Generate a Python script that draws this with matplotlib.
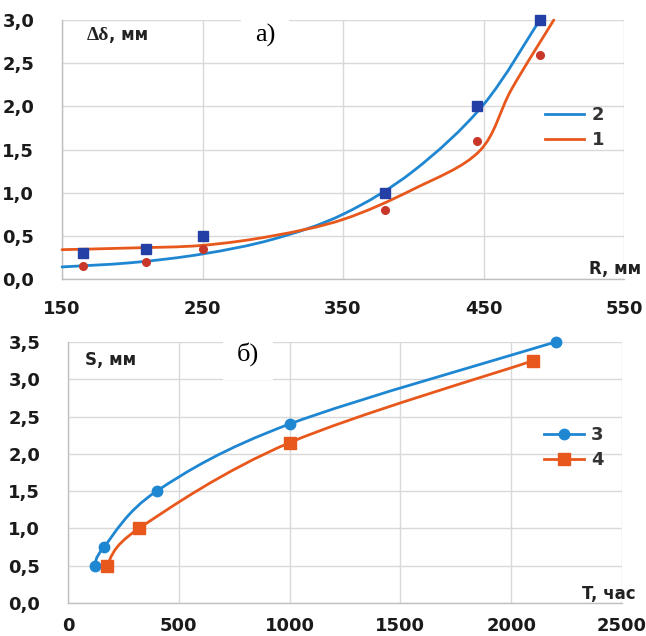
import numpy as np
import matplotlib
matplotlib.use("Agg")
import matplotlib.pyplot as plt
from matplotlib.path import Path
from matplotlib.patches import PathPatch

# ---------- data: chart a) ----------
R_pts = [165, 210, 250, 380, 445, 490]
d2_pts = [0.30, 0.35, 0.50, 1.00, 2.00, 3.00]   # blue squares
d1_pts = [0.15, 0.20, 0.35, 0.80, 1.60, 2.60]   # red circles
# trend curves
c2_x = [150, 200, 250, 300, 350, 400, 450, 490]
c2_y = [0.14, 0.19, 0.29, 0.46, 0.75, 1.25, 2.02, 3.00]
c1_x = [150, 200, 250, 300, 350, 400, 447, 470, 500]
c1_y = [0.34, 0.36, 0.39, 0.50, 0.69, 1.04, 1.48, 2.20, 3.00]
a_xticks = [150, 250, 350, 450, 550]
a_yticks = [0.0, 0.5, 1.0, 1.5, 2.0, 2.5, 3.0]

# ---------- data: chart б) ----------
T3 = [120, 162, 400, 1000, 2200]
S3 = [0.50, 0.75, 1.50, 2.40, 3.50]
T4 = [174, 320, 1000, 2100]
S4 = [0.50, 1.00, 2.15, 3.25]
b_xticks = [0, 500, 1000, 1500, 2000, 2500]
b_yticks = [0.0, 0.5, 1.0, 1.5, 2.0, 2.5, 3.0, 3.5]

BLUE_LINE = "#1f87d2"
ORANGE_LINE = "#e8581c"
BLUE_MARK = "#243fa6"
RED_MARK = "#c8372a"
GRID = "#d9d9d9"

def smooth_path(xs, ys):
    p = np.column_stack([xs, ys]).astype(float)
    n = len(p)
    verts = [p[0]]
    codes = [Path.MOVETO]
    for i in range(n - 1):
        p0 = p[i - 1] if i > 0 else p[i]
        p1 = p[i]
        p2 = p[i + 1]
        p3 = p[i + 2] if i + 2 < n else p[i + 1]
        c1 = p1 + (p2 - p0) / 6.0
        c2 = p2 - (p3 - p1) / 6.0
        verts += [c1, c2, p2]
        codes += [Path.CURVE4] * 3
    return Path(verts, codes)

def add_smooth(ax, xs, ys, color, lw=2.0):
    patch = PathPatch(smooth_path(xs, ys), facecolor="none", edgecolor=color,
                      lw=lw, clip_on=False, zorder=3, capstyle="round")
    ax.add_patch(patch)

def style(ax, xticks, yticks, xlim, ylim, fmt, xpad):
    ax.set_xlim(*xlim)
    ax.set_ylim(*ylim)
    ax.set_xticks(xticks)
    ax.set_yticks(yticks)
    ax.set_xticklabels([str(v) for v in xticks])
    ax.set_yticklabels([fmt(v) for v in yticks])
    ax.grid(True, color=GRID, lw=1.0, zorder=0)
    ax.set_axisbelow(True)
    for s in ["top", "right"]:
        ax.spines[s].set_visible(False)
    for s in ["left", "bottom"]:
        ax.spines[s].set_color("#bfbfbf")
        ax.spines[s].set_linewidth(1.0)
    ax.tick_params(length=0, labelsize=13)
    ax.tick_params(axis="x", pad=xpad)
    ax.tick_params(axis="y", pad=20)
    for lab in ax.get_xticklabels() + ax.get_yticklabels():
        lab.set_fontweight("bold")
        lab.set_color("#1a1a1a")

fmt = lambda v: f"{v:.1f}".replace(".", ",")

fig = plt.figure(figsize=(6.46, 6.36), dpi=100)

# ---------- a) ----------
ax1 = fig.add_axes([0.096, 0.5613, 0.870, 0.4072])
style(ax1, a_xticks, a_yticks, (150, 550), (0, 3.0), fmt, 15)
add_smooth(ax1, c2_x, c2_y, BLUE_LINE)
add_smooth(ax1, c1_x, c1_y, ORANGE_LINE)
ax1.plot(R_pts, d2_pts, ls="none", marker="s", ms=6.5, color=BLUE_MARK,
         zorder=4, clip_on=False)
ax1.plot(R_pts, d1_pts, ls="none", marker="o", ms=5.5, color=RED_MARK,
         zorder=4, clip_on=False)
ax1.plot([], [], color=BLUE_LINE, lw=2.0, label="2")
ax1.plot([], [], color=ORANGE_LINE, lw=2.0, label="1")
h, l = ax1.get_legend_handles_labels()
leg1 = ax1.legend(h[-2:], l[-2:], loc="upper left", bbox_to_anchor=(0.83, 0.73),
                  frameon=False, handlelength=2.2, handletextpad=0.4,
                  labelspacing=0.4, prop={"weight": "bold", "size": 13})
for t in leg1.get_texts():
    t.set_color("#333333")
t1 = ax1.text(0.044, 0.975, "Δδ", transform=ax1.transAxes, ha="left", va="top",
              fontsize=14, family="Liberation Serif", fontweight="bold",
              color="#222222")
ax1.annotate(", мм", xy=(1.0, 0.0), xycoords=t1, ha="left", va="bottom",
             fontsize=12, fontweight="bold", color="#222222")
ax1.text(0.361, 0.94, "а)", transform=ax1.transAxes, ha="center", va="center",
         fontsize=19, family="Liberation Serif", color="black",
         bbox=dict(facecolor="white", edgecolor="none", pad=10))
ax1.text(1.03, 0.005, "R, мм", transform=ax1.transAxes, ha="right", va="bottom",
         fontsize=12, fontweight="bold", color="#222222")

# ---------- б) ----------
ax2 = fig.add_axes([0.1053, 0.0519, 0.8576, 0.4104])
style(ax2, b_xticks, b_yticks, (0, 2500), (0, 3.5), fmt, 10)
add_smooth(ax2, T3, S3, BLUE_LINE)
add_smooth(ax2, T4, S4, ORANGE_LINE)
ax2.plot(T3, S3, ls="none", marker="o", ms=7.5, color=BLUE_LINE, zorder=4,
         clip_on=False)
ax2.plot(T4, S4, ls="none", marker="s", ms=8, color=ORANGE_LINE, zorder=4,
         clip_on=False)
ax2.plot([], [], color=BLUE_LINE, lw=2.0, marker="o", ms=7.5, label="3")
ax2.plot([], [], color=ORANGE_LINE, lw=2.0, marker="s", ms=8, label="4")
h, l = ax2.get_legend_handles_labels()
leg2 = ax2.legend(h[-2:], l[-2:], loc="upper left", bbox_to_anchor=(0.83, 0.74),
                  frameon=False, handlelength=2.2, handletextpad=0.4,
                  labelspacing=0.4, prop={"weight": "bold", "size": 13})
for t in leg2.get_texts():
    t.set_color("#333333")
ax2.text(0.03, 0.965, "S, мм", transform=ax2.transAxes, ha="left", va="top",
         fontsize=12, fontweight="bold", color="#222222")
ax2.text(0.325, 0.955, "б)", transform=ax2.transAxes, ha="center", va="center",
         fontsize=19, family="Liberation Serif", color="black",
         bbox=dict(facecolor="white", edgecolor="none", pad=10))
ax2.text(1.025, 0.0, "T, час", transform=ax2.transAxes, ha="right", va="bottom",
         fontsize=12, fontweight="bold", color="#222222")

fig.savefig("out.png", dpi=100)
